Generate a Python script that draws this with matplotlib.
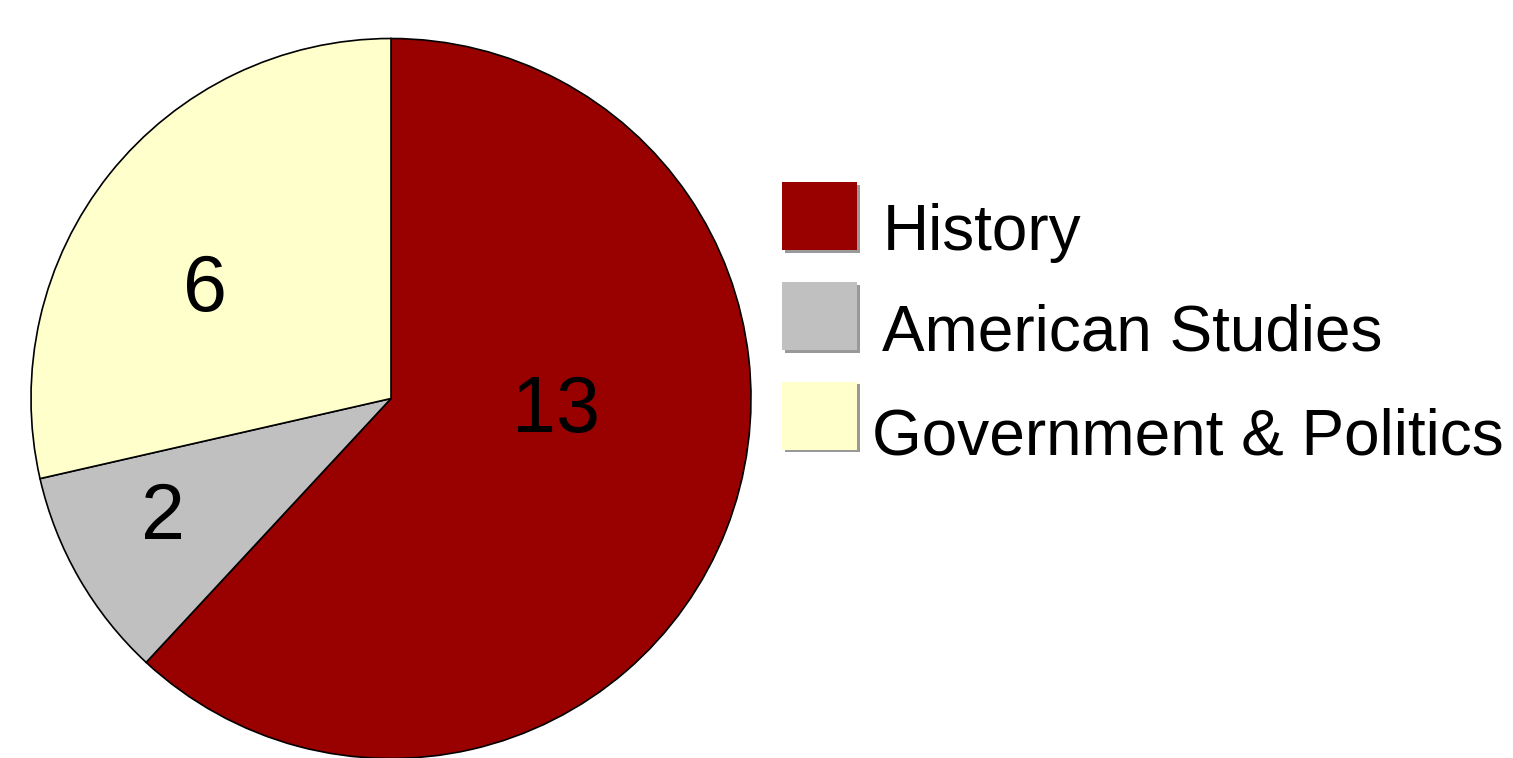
import matplotlib.pyplot as plt
import matplotlib.patheffects as pe
import matplotlib.transforms as mtransforms

plt.rcParams['font.family'] = ['Liberation Sans', 'DejaVu Sans']

# dados do grafico
categorias = ['History', 'American Studies', 'Government & Politics']
valores = [13, 2, 6]
cores = ['#990000', '#C0C0C0', '#FFFFCC']

# posicao de cada rotulo dentro da fatia (raio = 1)
pos_rotulos = [(0.458, -0.037), (-0.633, -0.333), (-0.517, 0.301)]
# deslocamento (px) dos textos da legenda
desloc_legenda = [(0, -13), (0, -13), (-10, -18)]

W, H = 1513, 758
fig = plt.figure(figsize=(W / 100, H / 100), dpi=100)

# centro e raio da pizza em pixels (origem no topo)
cx, cy, r = 391, 398.5, 360
ax = fig.add_axes([(cx - r) / W, (H - cy - r) / H, 2 * r / W, 2 * r / H])

wedges, textos, autotextos = ax.pie(
    valores, colors=cores, startangle=90, counterclock=False,
    autopct=lambda p: '%d' % round(p * sum(valores) / 100),
    wedgeprops=dict(edgecolor='black', linewidth=1.2),
    textprops=dict(fontsize=57, color='black'))

for t, (x, y) in zip(autotextos, pos_rotulos):
    t.set_position((x, y))
    t.set_ha('center')
    t.set_va('center')

ax.set_xlim(-1, 1)
ax.set_ylim(-1, 1)
ax.set_aspect('equal')
ax.axis('off')

leg = fig.legend(wedges, categorias, loc='upper left',
                 bbox_to_anchor=(782 / W, 1 - 182 / H),
                 frameon=False, fontsize=46, borderpad=0, borderaxespad=0,
                 handlelength=1.17, handleheight=1.26, handletextpad=0.4,
                 labelspacing=0.49)
for h in leg.legend_handles:
    h.set_edgecolor('none')
    h.set_path_effects([pe.withSimplePatchShadow(offset=(2, -2), shadow_rgbFace='#555555', alpha=0.6),
                        pe.Normal()])
for t, (dx, dy) in zip(leg.get_texts(), desloc_legenda):
    t.set_transform(t.get_transform() + mtransforms.Affine2D().translate(dx, dy))

fig.savefig('out.png', dpi=100)
